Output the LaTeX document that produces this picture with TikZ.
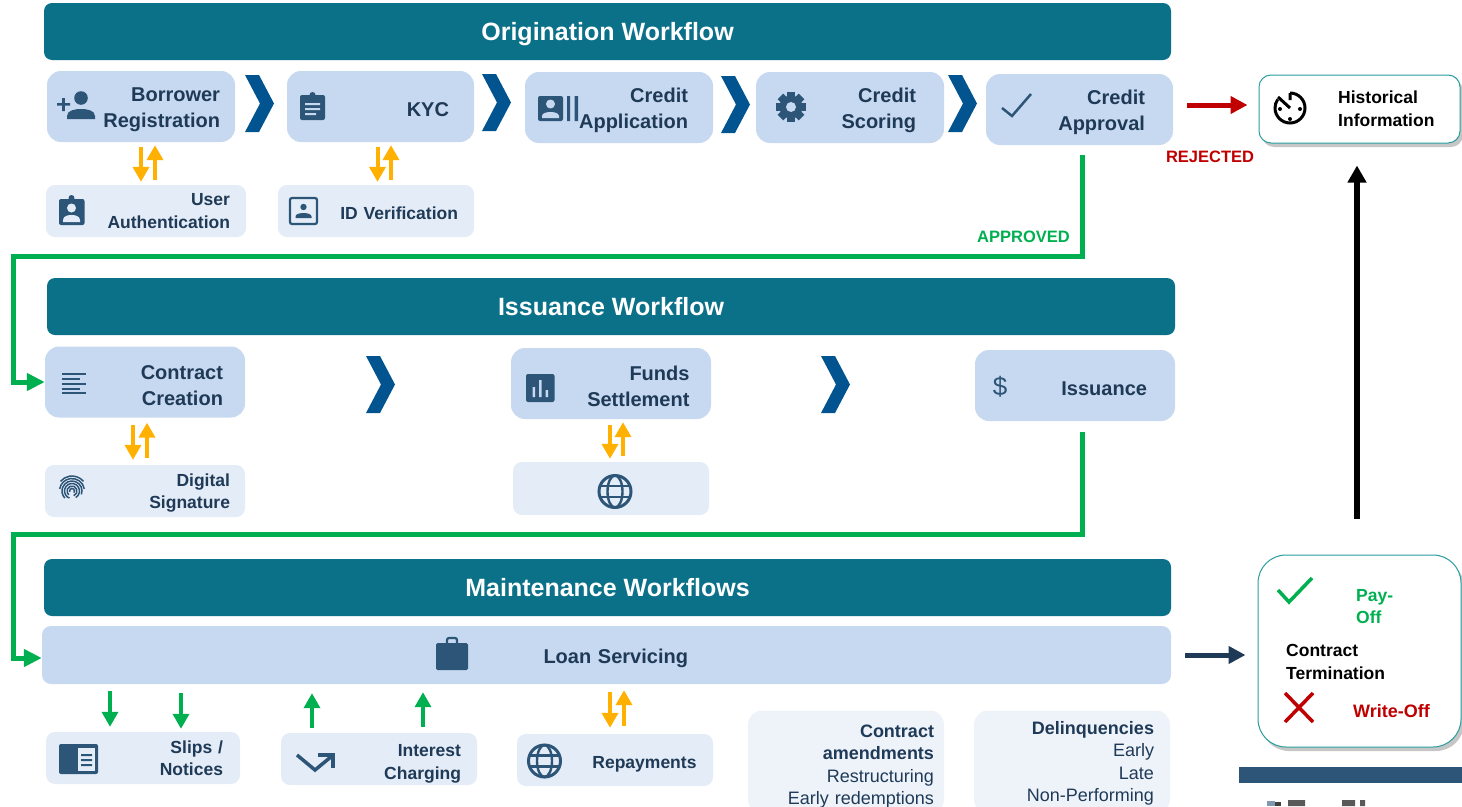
\documentclass[tikz,border=0pt]{standalone}
\usepackage{fontspec}
\setmainfont{Liberation Sans}
\usetikzlibrary{arrows.meta,shadows}
\definecolor{headteal}{HTML}{0B7189}
\definecolor{boxblue}{HTML}{C7D9F0}
\definecolor{subblue}{HTML}{E4ECF7}
\definecolor{paleblue}{HTML}{EEF3FA}
\definecolor{chevblue}{HTML}{01548F}
\definecolor{iconblue}{HTML}{2C5578}
\definecolor{txtnavy}{HTML}{1F3A57}
\definecolor{routegreen}{HTML}{00B050}
\definecolor{rejred}{HTML}{C00000}
\definecolor{yelarrow}{HTML}{FFB000}
\definecolor{rimteal}{HTML}{2A9D9F}
\begin{document}
\begin{tikzpicture}[x=1pt,y=-1pt,
    bigbox/.style 2 args={rectangle,fill=boxblue,rounded corners=14pt,minimum width=#1pt,minimum height=71pt,
        inner ysep=0pt,inner xsep=#2pt,text width={#1pt-2*#2pt},align=right,text=txtnavy,
        font=\fontsize{20}{26}\selectfont\bfseries,execute at begin node={\rule{0pt}{20.5pt}}},
    subbox/.style 2 args={rectangle,fill=subblue,rounded corners=9pt,minimum width=#1pt,minimum height=52pt,
        inner ysep=0pt,inner xsep=#2pt,text width={#1pt-2*#2pt},align=right,text=txtnavy,
        font=\fontsize{17.5}{22.5}\selectfont\bfseries},
    palebox/.style 2 args={rectangle,fill=paleblue,rounded corners=14pt,minimum width=#1pt,minimum height=103pt,
        inner ysep=0pt,inner xsep=#2pt,text width={#1pt-2*#2pt},align=right,text=txtnavy,
        font=\fontsize{18}{22.3}\selectfont},
    rimbox/.style={rectangle,draw=rimteal,line width=1pt,fill=white,drop shadow={shadow xshift=3pt,shadow yshift=-4pt,opacity=.45}},
    blacktxt/.style={align=left,anchor=west,inner sep=0pt,text=black,font=\fontsize{17.5}{23}\selectfont\bfseries},
    chevron/.pic={\fill[chevblue] (0,0) -- (14,0) -- (29,28.5) -- (14,57) -- (0,57) -- (15,28.5) -- cycle;},
    globe/.pic={\draw[iconblue,line width=3pt] (0,0) circle (16pt);
        \draw[iconblue,line width=2.4pt] (0,0) ellipse (7.5pt and 16pt);
        \draw[iconblue,line width=2.4pt] (-15,-5.5) -- (15,-5.5) (-15,5.5) -- (15,5.5);},
    route/.style={draw=routegreen,line width=5pt,-{Triangle[length=18pt,width=17pt]}},
    yelline/.style={draw=yelarrow,line width=4pt,-{Triangle[length=15pt,width=16pt]}},
    greenline/.style={draw=routegreen,line width=3.5pt,-{Triangle[length=15pt,width=16pt]}}]
\useasboundingbox (0,0) rectangle (1462,806);

\begin{scope}[every node/.style={rectangle,fill=headteal,rounded corners=8pt,minimum height=57pt,text=white,
        font=\fontsize{25}{29}\selectfont\bfseries}]
    \node[minimum width=1127pt] (orig) at (607.5,31.5) {\rule{0pt}{24pt}Origination Workflow};
    \node[minimum width=1128pt] (issuehead) at (611,306.5) {Issuance Workflow};
    \node[minimum width=1127pt] (mainthead) at (607.5,587.5) {Maintenance Workflows};
\end{scope}

\node[bigbox={188}{15}] (reg) at (141,106.5) {Borrower\\Registration};
\node[bigbox={187}{25}] (kyc) at (380.5,106.5) {KYC};
\node[bigbox={188}{25}] (app) at (619,107.5) {Credit\\Application};
\node[bigbox={188}{28}] (score) at (850,107.5) {Credit\\Scoring};
\node[bigbox={187}{28}] (appr) at (1079.5,109.5) {Credit\\Approval};
\node[bigbox={200}{22}] (contract) at (145,382) {Contract\\Creation};
\node[bigbox={200}{21.5}] (funds) at (611,383.5) {Funds\\Settlement};
\node[bigbox={200}{28}] (issu) at (1075,385.5) {Issuance};
\node[bigbox={1129}{483},minimum height=58pt,rounded corners=9pt] (loan) at (606.5,655) {Loan Servicing};

\node[subbox={200}{16}] (auth) at (146,211) {User\\Authentication};
\node[subbox={196}{16}] (idv) at (376,211) {\rule{0pt}{17pt}ID Verification};
\node[subbox={200}{15}] (digital) at (145,491) {\rule{0pt}{17pt}Digital\\Signature};
\node[subbox={196}{16},minimum height=53pt] (web) at (611,488.5) {};
\node[subbox={194}{17}] (slips) at (143,758) {Slips /\\Notices};
\node[subbox={196}{16}] (interest) at (379,759) {\rule{0pt}{22pt}Interest\\Charging};
\node[subbox={196}{16.5}] (repay) at (615,760) {\rule{0pt}{20pt}Repayments};

\node[palebox={196}{10}] (amend) at (846,762) {\rule{0pt}{22pt}\textbf{Contract}\\\textbf{amendments}\\Restructuring\\Early redemptions};
\node[palebox={196}{16}] (delinq) at (1072,762) {\rule{0pt}{16pt}\textbf{Delinquencies}\\Early\\Late\\Non-Performing};

\node[rimbox,rounded corners=12pt,minimum width=201pt,minimum height=68pt] (hist) at (1359.5,109) {};
\node[rimbox,rounded corners=28pt,minimum width=203pt,minimum height=192pt] (term) at (1359.5,651) {};
\node[blacktxt] (histtxt) at (1338,108.5) {Historical\\Information};
\node[blacktxt] (termtxt) at (1286,662) {Contract\\Termination};
\node[blacktxt,text=routegreen,font=\fontsize{17.5}{22}\selectfont\bfseries] (paytxt) at (1356,607) {Pay-\\Off};
\node[blacktxt,text=rejred,font=\fontsize{18}{23}\selectfont\bfseries] (writetxt) at (1353,711) {Write-Off};
\node[inner sep=0pt,text=rejred,font=\fontsize{16.5}{20}\selectfont\bfseries] (rejtxt) at (1210,157) {REJECTED};
\node[inner sep=0pt,text=routegreen,font=\fontsize{16.5}{20}\selectfont\bfseries] (apprtxt) at (1023.5,237) {APPROVED};
\node[inner sep=0pt,text=iconblue,font=\fontsize{26}{30}\selectfont] (dollar) at (1000,387) {\$};

\foreach \cname/\cx/\cy in {chevA/245/75,chevB/482/74,chevC/721/76,chevD/948/75,chevE/366/356,chevF/821/356}
    \pic (\cname) at (\cx,\cy) {chevron};

\coordinate (gA) at (1082,256);
\coordinate (gB) at (13,256);
\coordinate (gC) at (1082,534);
\coordinate (gD) at (13,534);
\coordinate (rejstart) at (1187,105);
\coordinate (blackup) at (1357,400);
\draw[route,shorten <=10pt] (gA |- appr.south) -- (gA) -- (gB) |- (contract.west);
\draw[route,shorten <=11pt] (gC |- issu.south) -- (gC) -- (gD) |- ([yshift=-3pt]loan.west);
\draw[draw=rejred,line width=5pt,-{Triangle[length=17pt,width=17pt]},shorten >=11pt] (rejstart) -- (rejstart -| hist.west);
\draw[draw=txtnavy,line width=5pt,-{Triangle[length=17pt,width=17pt]},shorten <=14pt,shorten >=12pt] (loan.east) -- (loan.east -| term.west);
\draw[draw=black,line width=6pt,-{Triangle[length=17pt,width=18pt]},shorten <=36pt,shorten >=22pt] (blackup |- term.north) -- (blackup |- hist.south);

\foreach \boxa/\boxb/\xd/\xu/\gapa/\gapb in {reg/auth/141/155/5/3,kyc/idv/377.5/391/5/3,contract/digital/133/147/7/5,funds/web/610/623/6/3,loan/repay/610/624/8/6}
{
    \coordinate (xdown) at (\xd,0);
    \coordinate (xup) at (\xu,0);
    \draw[yelline,shorten <=\gapa pt,shorten >=\gapb pt] (xdown |- \boxa.south) -- (xdown |- \boxb.north);
    \draw[yelline,shorten <=\gapa pt,shorten >=\gapb pt] (xup |- \boxb.north) -- (xup |- \boxa.south);
}
\foreach \xg/\gapa/\gapb in {110/7/5,181/9/3}
{
    \coordinate (xgreen) at (\xg,0);
    \draw[greenline,shorten <=\gapa pt,shorten >=\gapb pt] (xgreen |- loan.south) -- (xgreen |- slips.north);
}
\foreach \xg/\gapa/\gapb in {312/5/9,423/6/8}
{
    \coordinate (xgreen) at (\xg,0);
    \draw[greenline,shorten <=\gapa pt,shorten >=\gapb pt] (xgreen |- interest.north) -- (xgreen |- loan.south);
}

\begin{scope}[every path/.style={fill=iconblue}]
    \path (57,103) rectangle (70,105.5) (62.2,98) rectangle (64.8,111);
    \path (81,98) circle (6.8pt);
    \path (67,119) -- (67,116) .. controls (67,110) and (76,109) .. (81,109) .. controls (86,109) and (95,110) .. (95,116) -- (95,119) -- cycle;
    \path[rounded corners=2pt] (300,95) rectangle (325,120);
    \path (312.5,95) circle (3pt);
    \path[rounded corners=2pt] (59,199) rectangle (84.5,225);
    \path (71.5,198) circle (3pt);
    \path[rounded corners=2pt] (538,96) rectangle (563,121);
    \path (567,96) rectangle (570,121) (574.5,96) rectangle (578,121);
    \path (791,107) circle (11.5pt);
    \foreach \a in {0,45,...,315}
        \path[rotate around={\a:(791,107)}] (787,92) rectangle (795,100);
    \path[rounded corners=2pt] (526,374) rectangle (554.5,402);
    \path[rounded corners=2pt] (59,744) rectangle (98,774);
    \path[rounded corners=1.5pt] (436,643) rectangle (468,670);
\end{scope}
\fill[boxblue] (305,103) rectangle (320,105) (305,108) rectangle (320,110) (305,113) rectangle (316,115);
\fill[subblue] (71.5,208) circle (4.5pt);
\fill[subblue] (63,222) -- (63,220) .. controls (63,216) and (68,215) .. (71.5,215) .. controls (75,215) and (80,216) .. (80,220) -- (80,222) -- cycle;
\fill[boxblue] (550.5,104) circle (4.5pt);
\fill[boxblue] (542,118) -- (542,116) .. controls (542,113) and (547,112) .. (550.5,112) .. controls (554,112) and (559,113) .. (559,116) -- (559,118) -- cycle;
\fill[boxblue] (791,107) circle (5pt);
\fill[boxblue] (532.5,387) rectangle (535,397) (539,380) rectangle (541.5,397) (545.5,390) rectangle (548,397);
\draw[draw=iconblue,line width=2.2pt,rounded corners=2pt] (290,198) rectangle (317,224);
\fill[iconblue] (303.5,207) circle (3.2pt);
\fill[iconblue] (295.5,218) -- (295.5,216.5) .. controls (295.5,214) and (300,213) .. (303.5,213) .. controls (307,213) and (311.5,214) .. (311.5,216.5) -- (311.5,218) -- cycle;
\draw[draw=iconblue,line width=2.5pt] (1002,108) -- (1012,116) -- (1031,94);
\foreach \ly/\lx in {374/86,379/80,384/86,389/80,393/86}
    \draw[draw=iconblue,line width=2pt] (62,\ly) -- (\lx,\ly);
\foreach \r/\s/\e in {15/40/140,12.5/10/170,10/-20/225,7.5/-60/250,5/-70/230,2.5/-40/200}
    \draw[draw=iconblue,line width=1.5pt] (72,491) ++(\s:\r pt) arc[start angle=\s,end angle=\e,radius=\r pt];
\pic (globeA) at (615,491.5) {globe};
\pic (globeB) at (544.5,761) {globe};
\draw[draw=iconblue,line width=2.2pt,rounded corners=2pt] (447,643) -- (447,638) -- (457,638) -- (457,643);
\fill[subblue] (78,748) rectangle (95,771);
\fill[iconblue] (81,754) rectangle (92,756) (81,759) rectangle (92,761) (81,764) rectangle (92,766);
\draw[draw=iconblue,line width=3.5pt] (297,755) -- (315,770) -- (332,756);
\draw[draw=iconblue,line width=3.5pt] (318,755) -- (333,755) -- (333,768);

\draw[draw=black,line width=3pt] (1290,108) ++(90:15pt) arc[start angle=90,end angle=-215,radius=15pt];
\draw[draw=black,line width=3pt] (1290,93) -- (1290,100) (1278,97) -- (1290,108);
\fill[black] (1280,109) circle (2pt) (1300,109) circle (2pt) (1290,119) circle (2pt);

\draw[draw=routegreen,line width=3.5pt] (1278,590) -- (1289,602) -- (1312,578);
\draw[draw=rejred,line width=3.5pt] (1285,693) -- (1313,722) (1313,693) -- (1285,722);

\fill[iconblue] (1239,767) rectangle (1462,783);
\fill[iconblue!60] (1267,801) rectangle (1275,806);
\fill[black!75] (1275,802) rectangle (1281,806);
\fill[black!65] (1288,800) rectangle (1305,806) (1342,800) rectangle (1355,806) (1360,800) rectangle (1365,806);
\end{tikzpicture}
\end{document}
